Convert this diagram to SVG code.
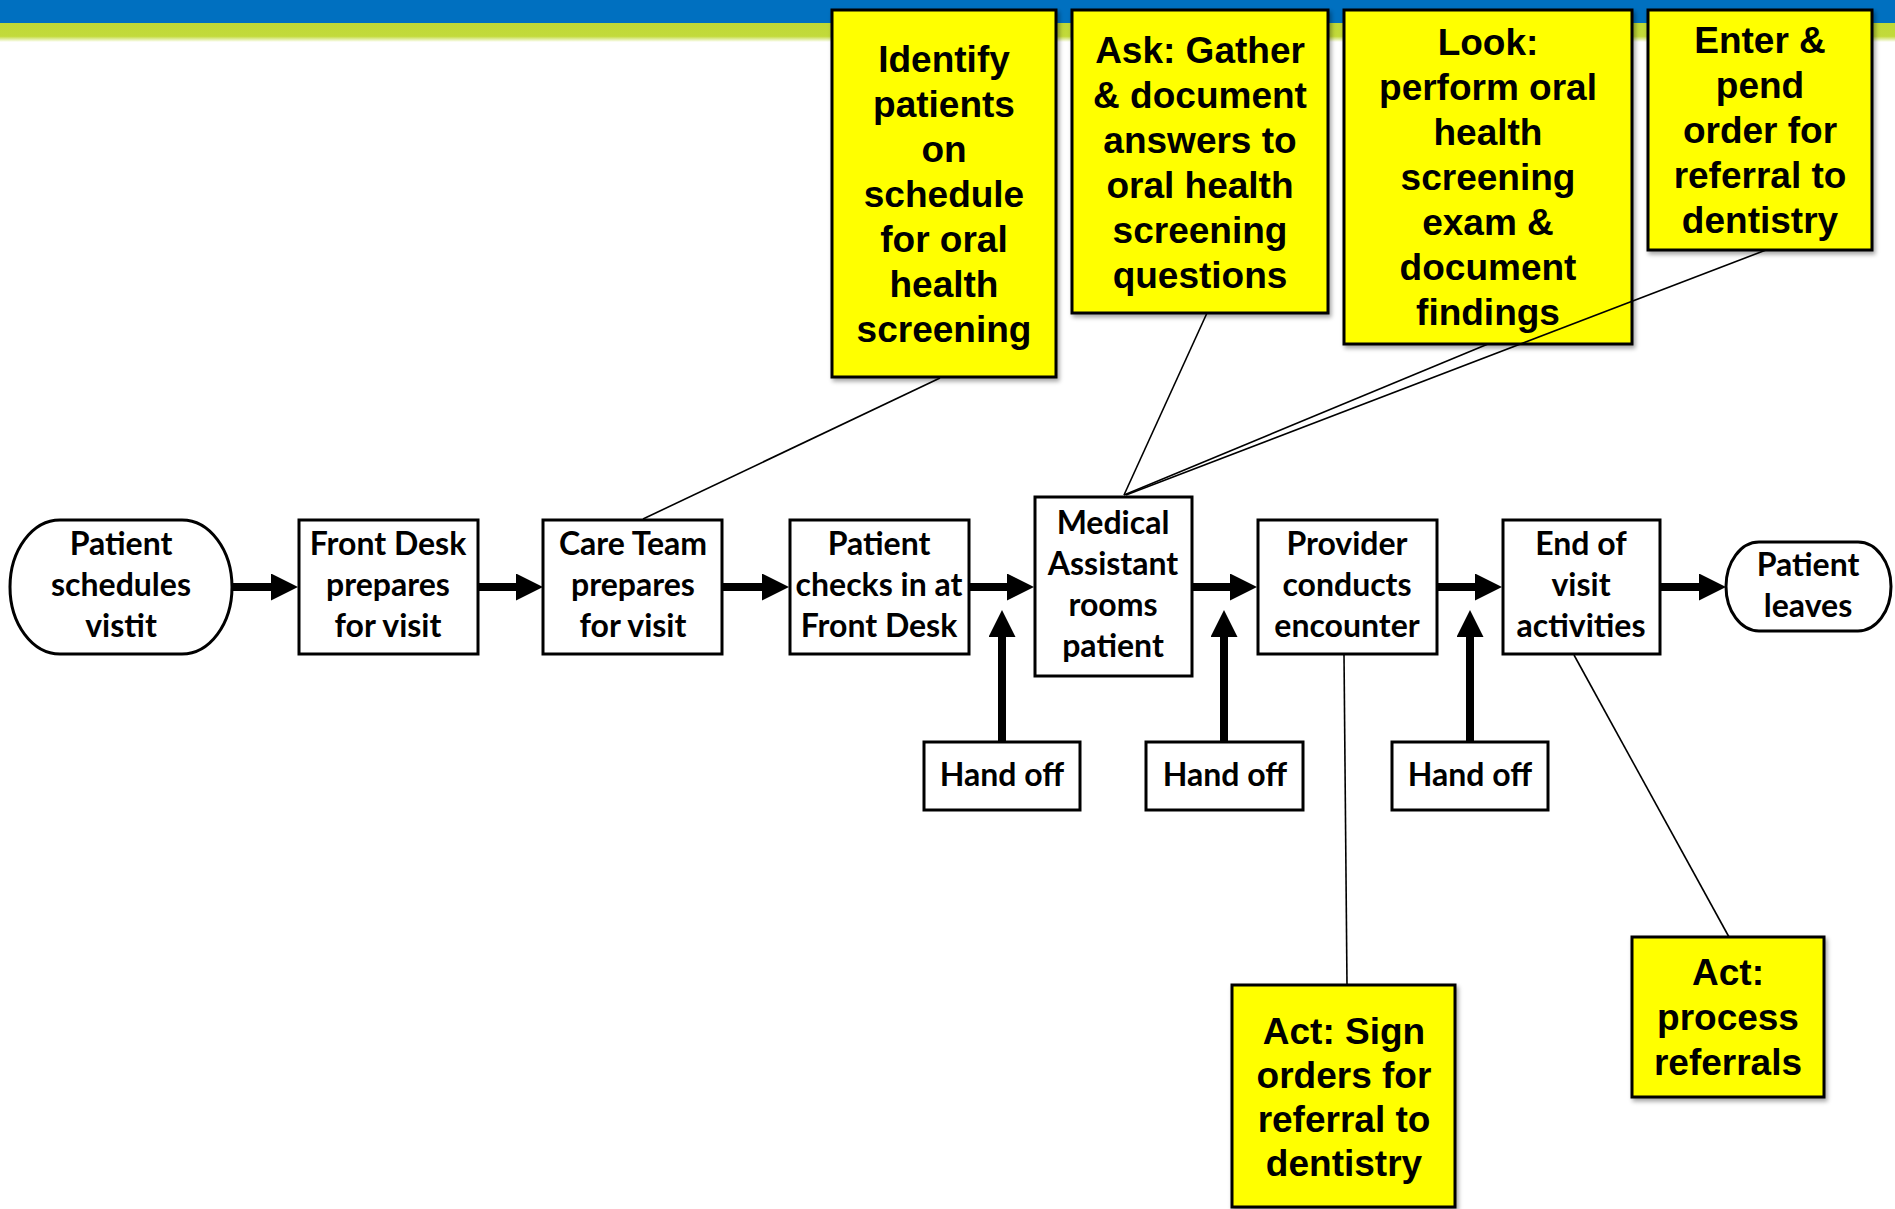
<svg xmlns="http://www.w3.org/2000/svg" width="1895" height="1209" viewBox="0 0 1895 1209">
<style>
.co rect{fill:#FFFF00;stroke:#000;stroke-width:3}
.ct{font-family:"Liberation Sans",Arial,sans-serif;font-weight:bold;font-size:37px;text-anchor:middle;fill:#000}
.nd rect{fill:#fff;stroke:#000;stroke-width:3}
.nt{font-family:Lato,"Liberation Sans",sans-serif;font-weight:bold;font-size:32px;text-anchor:middle;fill:#000}
.flow{stroke:#000;stroke-width:8;fill:none;marker-end:url(#ah)}
.link{stroke:#000;stroke-width:1.6;fill:none}
</style>
<defs>
<marker id="ah" markerUnits="userSpaceOnUse" markerWidth="28" markerHeight="28" refX="2" refY="13.5" orient="auto">
<path d="M0,0 L27,13.5 L0,27 z" fill="#000"/>
</marker>
<filter id="sh" x="-10%" y="-10%" width="125%" height="125%">
<feDropShadow dx="2" dy="3" stdDeviation="2" flood-color="#000" flood-opacity="0.35"/>
</filter>
<linearGradient id="gb" x1="0" y1="0" x2="0" y2="1">
<stop offset="0" stop-color="#BFD935"/>
<stop offset="0.7" stop-color="#C2DA3A"/>
<stop offset="1" stop-color="#FFFFFF"/>
</linearGradient>
</defs>
<rect x="0" y="0" width="1895" height="1209" fill="#fff"/>
<g id="header">
<rect x="0" y="0" width="1895" height="23" fill="#0070C0"/>
<rect x="0" y="23" width="1895" height="19" fill="url(#gb)"/>
</g>
<g id="n-schedules" class="nd">
<rect x="10" y="520" width="222" height="134" rx="50" ry="67"/>
<text class="nt" x="121" y="555">Patient</text>
<text class="nt" x="121" y="596">schedules</text>
<text class="nt" x="121" y="637">vistit</text>
</g>
<g id="n-frontdesk" class="nd">
<rect x="299" y="520" width="179" height="134"/>
<text class="nt" x="388" y="555">Front Desk</text>
<text class="nt" x="388" y="596">prepares</text>
<text class="nt" x="388" y="637">for visit</text>
</g>
<g id="n-careteam" class="nd">
<rect x="543" y="520" width="179" height="134"/>
<text class="nt" x="633" y="555">Care Team</text>
<text class="nt" x="633" y="596">prepares</text>
<text class="nt" x="633" y="637">for visit</text>
</g>
<g id="n-checkin" class="nd">
<rect x="790" y="520" width="179" height="134"/>
<text class="nt" x="879" y="555">Patient</text>
<text class="nt" x="879" y="596">checks in at</text>
<text class="nt" x="879" y="637">Front Desk</text>
</g>
<g id="n-ma" class="nd">
<rect x="1035" y="497" width="157" height="179"/>
<text class="nt" x="1113" y="534">Medical</text>
<text class="nt" x="1113" y="575">Assistant</text>
<text class="nt" x="1113" y="616">rooms</text>
<text class="nt" x="1113" y="657">patient</text>
</g>
<g id="n-provider" class="nd">
<rect x="1258" y="520" width="179" height="134"/>
<text class="nt" x="1347" y="555">Provider</text>
<text class="nt" x="1347" y="596">conducts</text>
<text class="nt" x="1347" y="637">encounter</text>
</g>
<g id="n-endvisit" class="nd">
<rect x="1503" y="520" width="157" height="134"/>
<text class="nt" x="1581" y="555">End of</text>
<text class="nt" x="1581" y="596">visit</text>
<text class="nt" x="1581" y="637">activities</text>
</g>
<g id="n-leaves" class="nd">
<rect x="1726" y="542" width="165" height="89" rx="33" ry="44.5"/>
<text class="nt" x="1808" y="576">Patient</text>
<text class="nt" x="1808" y="617">leaves</text>
</g>
<g id="n-handoff1" class="nd">
<rect x="924" y="742" width="156" height="68"/>
<text class="nt" x="1002" y="786">Hand off</text>
</g>
<g id="n-handoff2" class="nd">
<rect x="1146" y="742" width="157" height="68"/>
<text class="nt" x="1225" y="786">Hand off</text>
</g>
<g id="n-handoff3" class="nd">
<rect x="1392" y="742" width="156" height="68"/>
<text class="nt" x="1470" y="786">Hand off</text>
</g>
<g id="c-identify" class="co">
<rect x="832" y="10" width="224" height="367" filter="url(#sh)"/>
<text class="ct" x="944" y="72">Identify</text>
<text class="ct" x="944" y="117">patients</text>
<text class="ct" x="944" y="162">on</text>
<text class="ct" x="944" y="207">schedule</text>
<text class="ct" x="944" y="252">for oral</text>
<text class="ct" x="944" y="297">health</text>
<text class="ct" x="944" y="342">screening</text>
</g>
<g id="c-ask" class="co">
<rect x="1072" y="10" width="256" height="303" filter="url(#sh)"/>
<text class="ct" x="1200" y="63">Ask: Gather</text>
<text class="ct" x="1200" y="108">&amp; document</text>
<text class="ct" x="1200" y="153">answers to</text>
<text class="ct" x="1200" y="198">oral health</text>
<text class="ct" x="1200" y="243">screening</text>
<text class="ct" x="1200" y="288">questions</text>
</g>
<g id="c-look" class="co">
<rect x="1344" y="10" width="288" height="334" filter="url(#sh)"/>
<text class="ct" x="1488" y="55">Look:</text>
<text class="ct" x="1488" y="100">perform oral</text>
<text class="ct" x="1488" y="145">health</text>
<text class="ct" x="1488" y="190">screening</text>
<text class="ct" x="1488" y="235">exam &amp;</text>
<text class="ct" x="1488" y="280">document</text>
<text class="ct" x="1488" y="325">findings</text>
</g>
<g id="c-enter" class="co">
<rect x="1648" y="10" width="224" height="240" filter="url(#sh)"/>
<text class="ct" x="1760" y="53">Enter &amp;</text>
<text class="ct" x="1760" y="98">pend</text>
<text class="ct" x="1760" y="143">order for</text>
<text class="ct" x="1760" y="188">referral to</text>
<text class="ct" x="1760" y="233">dentistry</text>
</g>
<g id="c-sign" class="co">
<rect x="1232" y="985" width="223" height="222" filter="url(#sh)"/>
<text class="ct" x="1344" y="1044">Act: Sign</text>
<text class="ct" x="1344" y="1088">orders for</text>
<text class="ct" x="1344" y="1132">referral to</text>
<text class="ct" x="1344" y="1176">dentistry</text>
</g>
<g id="c-process" class="co">
<rect x="1632" y="937" width="192" height="160" filter="url(#sh)"/>
<text class="ct" x="1728" y="985">Act:</text>
<text class="ct" x="1728" y="1030">process</text>
<text class="ct" x="1728" y="1075">referrals</text>
</g>
<g id="connectors">
<line class="flow" x1="232" y1="587" x2="273" y2="587"/>
<line class="flow" x1="478" y1="587" x2="518" y2="587"/>
<line class="flow" x1="722" y1="587" x2="764" y2="587"/>
<line class="flow" x1="969" y1="587" x2="1009" y2="587"/>
<line class="flow" x1="1192" y1="587" x2="1232" y2="587"/>
<line class="flow" x1="1437" y1="587" x2="1477" y2="587"/>
<line class="flow" x1="1660" y1="587" x2="1701" y2="587"/>
<line class="flow" x1="1002" y1="742" x2="1002" y2="635"/>
<line class="flow" x1="1224" y1="742" x2="1224" y2="635"/>
<line class="flow" x1="1470" y1="742" x2="1470" y2="635"/>
<line class="link" x1="940" y1="378" x2="643" y2="519"/>
<line class="link" x1="1207" y1="313" x2="1124" y2="495"/>
<line class="link" x1="1488" y1="344" x2="1124" y2="495"/>
<line class="link" x1="1766" y1="250" x2="1126" y2="495"/>
<line class="link" x1="1344" y1="654" x2="1347" y2="985"/>
<line class="link" x1="1574" y1="655" x2="1729" y2="937"/>
</g>
</svg>
